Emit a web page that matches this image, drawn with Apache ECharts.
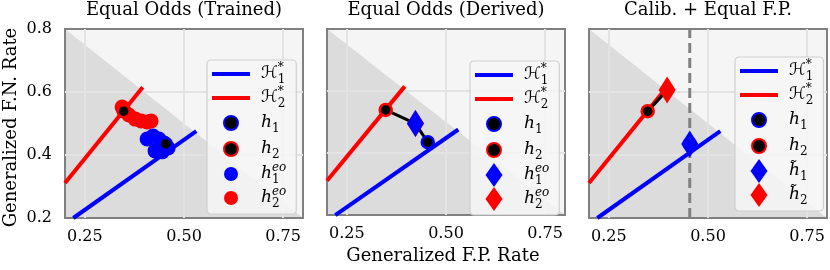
<!DOCTYPE html>
<html><head><meta charset="utf-8">
<script src="https://cdn.jsdelivr.net/npm/echarts@6/dist/echarts.min.js"></script>
<style>html,body{margin:0;padding:0;background:#fff}#c{width:830px;height:270px}</style>
</head><body><div id="c"></div>
<script>
// ---------------- data ----------------
const panelTitles = ['Equal Odds (Trained)', 'Equal Odds (Derived)', 'Calib. + Equal F.P.'];
const xAxisName = 'Generalized F.P. Rate';
const yAxisName = 'Generalized F.N. Rate';
const axisRange = [0.2, 0.8];
const xTicks = [0.25, 0.5, 0.75];
const yTicks = [0.2, 0.4, 0.6, 0.8];
const yGridTicks = [0.4, 0.6];
const diagonal = [0.2, 0.8, 0.8, 0.2];          // x+y=1 from top-left to bottom-right
const h1Frontier = [[0.221, 0.2], [0.531, 0.476]];
const h2Frontier = [[0.2, 0.311], [0.396, 0.615]];
const h1 = [0.454, 0.435];
const h2 = [0.348, 0.539];
const h1eoTrained = [[0.407, 0.451], [0.422, 0.460], [0.437, 0.451], [0.450, 0.438], [0.460, 0.422], [0.445, 0.410], [0.427, 0.413]];
const h2eoTrained = [[0.344, 0.552], [0.349, 0.540], [0.361, 0.527], [0.377, 0.514], [0.392, 0.508], [0.407, 0.505], [0.417, 0.508]];
const heoDerived = [0.423, 0.495];
const h1Calib = [0.454, 0.435];
const h2Calib = [0.397, 0.606];
const calibFP = 0.454;

// ---------------- layout / style ----------------
const FONT = "'DejaVu Serif', serif";
const BLUE = '#0000ff', RED = '#ff0000';
const gridLefts = [65, 327, 589];
const GT = 29, GW = 238, GH = 189;

const circleIcon = 'path://M0,0L0,0M24,24L24,24M5,12A7,7,0,1,1,19,12A7,7,0,1,1,5,12Z';
const diamondIcon = 'path://M0,-12L8.5,0L0,12L-8.5,0Z';
const lineIcon = 'path://M0,10L38,10L38,14L0,14Z';

const labels = {
  H1: '{g| }{H|ℋ}{p|*}{s|1}',
  H2: '{g| }{H|ℋ}{p|*}{s|2}',
  h1: '{g| }{h|h}{s|1}',
  h2: '{g| }{h|h}{s|2}',
  h1eo: '{g| }{h|h}{p|eo}{s|1}',
  h2eo: '{g| }{h|h}{p|eo}{s|2}',
  h1t: '{g| }{h|h\u0303}{s|1}',
  h2t: '{g| }{h|h\u0303}{s|2}'
};
const rich = {
  g: {width: 6, fontSize: 10},
  H: {fontFamily: "'DejaVu Serif','DejaVu Sans',serif", fontSize: 17, lineHeight: 24, color: '#000'},
  h: {fontFamily: FONT, fontStyle: 'italic', fontSize: 17, lineHeight: 24, color: '#000'},
  p: {fontFamily: FONT, fontStyle: 'italic', fontSize: 12, lineHeight: 12, verticalAlign: 'top', width: 0, color: '#000'},
  s: {fontFamily: FONT, fontSize: 12, lineHeight: 16, verticalAlign: 'bottom', color: '#000'}
};

function frontier(name, gi, data, color) {
  return {type: 'line', name, xAxisIndex: gi, yAxisIndex: gi, data, symbol: 'none',
    lineStyle: {color, width: 4}, itemStyle: {color}, z: 2, silent: true, animation: false};
}
function hPoint(name, gi, pt, edge) {
  return {type: 'scatter', name, xAxisIndex: gi, yAxisIndex: gi, data: [pt], symbol: 'circle', symbolSize: 12,
    itemStyle: {color: '#000', borderColor: edge, borderWidth: 2.5, opacity: 1}, z: 5, silent: true};
}
function cloud(name, gi, data, color) {
  return {type: 'scatter', name, xAxisIndex: gi, yAxisIndex: gi, data, symbol: 'circle', symbolSize: 15,
    itemStyle: {color, opacity: 1}, z: 3, silent: true};
}
function diamond(name, gi, pt, color) {
  return {type: 'scatter', name, xAxisIndex: gi, yAxisIndex: gi, data: [pt], symbol: 'diamond', symbolSize: [17, 27],
    itemStyle: {color, opacity: 1}, z: 6, silent: true};
}
function link(gi, data) {
  return {type: 'line', name: 'link' + gi, xAxisIndex: gi, yAxisIndex: gi, data, symbol: 'none',
    lineStyle: {color: '#000', width: 3}, z: 2.5, silent: true};
}
function background(gi) {
  return {type: 'custom', name: 'bg' + gi, xAxisIndex: gi, yAxisIndex: gi, data: [diagonal], z: -1, silent: true, clip: false,
    renderItem: (params, api) => {
      const a = api.coord([api.value(0), api.value(1)]);
      const b = api.coord([api.value(2), api.value(3)]);
      const cs = params.coordSys;
      return {type: 'group', children: [
        {type: 'rect', shape: {x: cs.x, y: cs.y, width: cs.width, height: cs.height}, style: {fill: '#f5f5f5'}},
        {type: 'polygon', shape: {points: [a, b, [a[0], b[1]]]}, style: {fill: '#dcdcdc'}}
      ]};
    }};
}

const grids = gridLefts.map(l => ({left: l, top: GT, width: GW, height: GH, show: true,
  backgroundColor: 'transparent', borderColor: '#808080', borderWidth: 2}));

const xAxes = gridLefts.map((l, i) => ({
  type: 'value', gridIndex: i, min: axisRange[0], max: axisRange[1],
  axisLine: {show: false}, axisTick: {show: false, customValues: xTicks},
  axisLabel: {customValues: xTicks, formatter: v => v.toFixed(2), fontFamily: FONT, fontSize: 16, color: '#000', margin: 11},
  splitLine: {show: true, lineStyle: {color: '#e3e3e3', width: 2}},
  name: i === 1 ? xAxisName : '', nameLocation: 'middle', nameGap: 31,
  nameTextStyle: {fontFamily: FONT, fontSize: 18, color: '#000', padding: [0, 6, 0, 0]}
}));
const yAxes = gridLefts.map((l, i) => ({
  type: 'value', gridIndex: i, min: axisRange[0], max: axisRange[1],
  axisLine: {show: false}, axisTick: {show: false, customValues: yGridTicks},
  axisLabel: {show: i === 0, customValues: yTicks, formatter: v => v.toFixed(1), fontFamily: FONT, fontSize: 16, color: '#000', margin: 13},
  splitLine: {show: true, lineStyle: {color: '#e3e3e3', width: 2}},
  name: i === 0 ? yAxisName : '', nameLocation: 'middle', nameRotate: 90, nameGap: 45,
  nameTextStyle: {fontFamily: FONT, fontSize: 18, color: '#000', padding: [0, 8, 0, 0]}
}));

const series = [
  // panel 0: trained
  background(0),
  frontier('H1_0', 0, h1Frontier, BLUE),
  frontier('H2_0', 0, h2Frontier, RED),
  cloud('h2eo_0', 0, h2eoTrained, RED),
  cloud('h1eo_0', 0, h1eoTrained, BLUE),
  hPoint('h1_0', 0, h1, BLUE),
  hPoint('h2_0', 0, h2, RED),
  // panel 1: derived
  background(1),
  frontier('H1_1', 1, h1Frontier, BLUE),
  frontier('H2_1', 1, h2Frontier, RED),
  link(1, [h2, heoDerived, h1]),
  hPoint('h1_1', 1, h1, BLUE),
  hPoint('h2_1', 1, h2, RED),
  diamond('h2eo_1', 1, heoDerived, RED),
  diamond('h1eo_1', 1, heoDerived, BLUE),
  // panel 2: calibration + equal FP
  background(2),
  {type: 'line', name: 'fp2', xAxisIndex: 2, yAxisIndex: 2, data: [[calibFP, axisRange[0]], [calibFP, axisRange[1]]],
    symbol: 'none', lineStyle: {color: '#808080', width: 3, type: [10, 5]}, z: 1.5, silent: true},
  frontier('H1_2', 2, h1Frontier, BLUE),
  frontier('H2_2', 2, h2Frontier, RED),
  link(2, [h2, h2Calib]),
  hPoint('h1_2', 2, h1, BLUE),
  hPoint('h2_2', 2, h2, RED),
  diamond('h1t_2', 2, h1Calib, BLUE),
  diamond('h2t_2', 2, h2Calib, RED)
];

function legendFor(gi, left, top, keys) {
  return {
    orient: 'vertical', left, top, itemWidth: 38, itemHeight: 24, itemGap: 0,
    padding: [2, 10, 4, 5], backgroundColor: 'rgba(246,246,246,0.85)', borderColor: '#cfcfcf', borderWidth: 1.2, borderRadius: 4,
    selectedMode: false, lineStyle: {width: 0},
    textStyle: {fontFamily: FONT, fontSize: 16, color: '#000', rich},
    formatter: name => labels[name.split('_')[0]],
    data: keys.map(k => {
      const name = k + '_' + gi;
      if (k[0] === 'H') return {name, icon: lineIcon, itemStyle: {borderWidth: 0}};
      if (gi > 0 && (k.endsWith('eo') || k.endsWith('t'))) return {name, icon: diamondIcon, itemStyle: {borderWidth: 0}};
      return {name, icon: circleIcon};
    })
  };
}

const option = {
  animation: false,
  backgroundColor: '#ffffff',
  title: panelTitles.map((t, i) => ({text: t, left: gridLefts[i] + GW / 2, top: 1, textAlign: 'center', padding: 0,
    textStyle: {fontFamily: FONT, fontSize: 18, fontWeight: 'normal', color: '#000'}})),
  grid: grids,
  xAxis: xAxes,
  yAxis: yAxes,
  legend: [
    legendFor(0, 207, 60, ['H1', 'H2', 'h1', 'h2', 'h1eo', 'h2eo']),
    legendFor(1, 470, 61, ['H1', 'H2', 'h1', 'h2', 'h1eo', 'h2eo']),
    legendFor(2, 735, 57, ['H1', 'H2', 'h1', 'h2', 'h1t', 'h2t'])
  ],
  series
};
const chart = echarts.init(document.getElementById('c'), null, {renderer: 'canvas'});
chart.setOption(option);
</script></body></html>
